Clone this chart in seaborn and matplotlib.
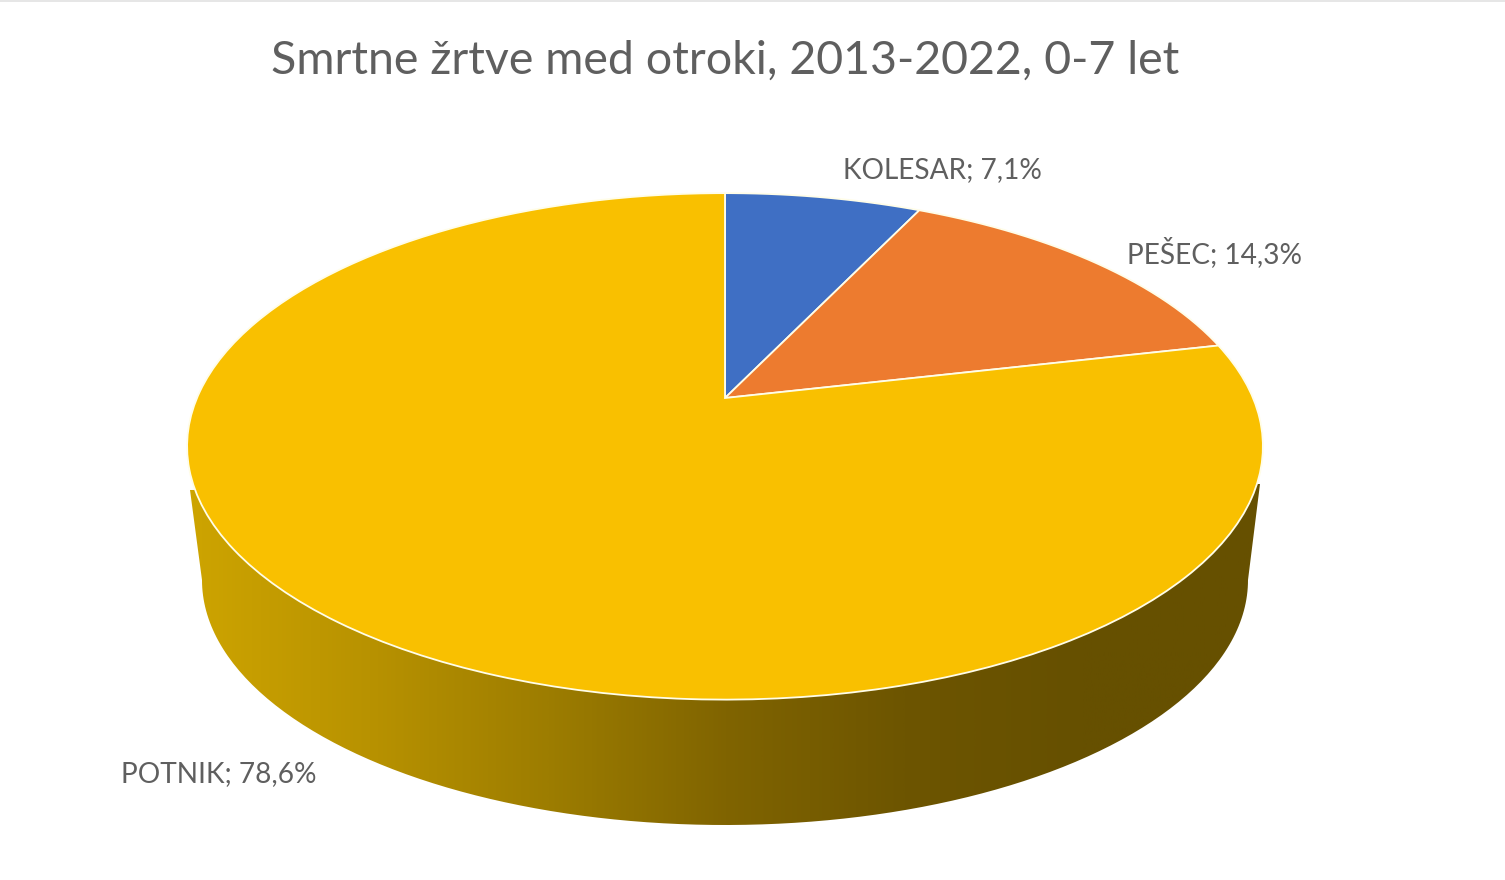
import numpy as np
import seaborn as sns
import matplotlib.pyplot as plt
from matplotlib.patches import PathPatch
from matplotlib.path import Path
from matplotlib.transforms import Affine2D

title = 'Smrtne žrtve med otroki, 2013-2022, 0-7 let'
names = ['KOLESAR', 'PEŠEC', 'POTNIK']
shares = [7.1, 14.3, 78.6]

colors = ['#3F6FC4', '#ED7B2F', '#F9C000']
wall_colors = ['#CDA400', '#B89200', '#9D7D00', '#806400', '#6D5500', '#665000', '#665000']
text_color = '#5F5F5F'

sns.set_theme(style='white')
plt.rcParams['font.family'] = ['Lato', 'DejaVu Sans']

# tilted disc, far side is smaller
apex_x, apex_y = 725, 398
a, b, k = 528, 244, 0.191


def project(xy):
    w = 1 + k * xy[:, 1]
    return np.column_stack([apex_x + a * xy[:, 0] / w, apex_y - b * xy[:, 1] / w])


fig = plt.figure(figsize=(15.05, 8.8), dpi=100)
ax = fig.add_axes([0, 0, 1, 1])

wedges, _ = ax.pie(shares, colors=colors, startangle=90, counterclock=False)

# pie comes out flat, so put every wedge through the tilt
for w in wedges:
    poly = w.get_path().to_polygons(Affine2D().scale(1000))[0] / 1000
    ax.add_patch(PathPatch(Path(project(poly), closed=True), facecolor=w.get_facecolor(),
                           edgecolor='#FFFDE8', linewidth=1.3, zorder=3))
    w.remove()

# side of the disc
t = np.linspace(0, np.pi, 200)
side = np.column_stack([725 + 523 * np.cos(t), 580 + 245 * np.sin(t)])
side = np.vstack([[1260, 484], side, [190, 490]])
clip = PathPatch(Path(side, closed=False), transform=ax.transData, facecolor='none', edgecolor='none')
ax.add_patch(clip)
img = ax.imshow(np.linspace(0, 1, 512)[None, :], extent=(190, 1262, 830, 480), aspect='auto',
                cmap=sns.blend_palette(wall_colors, as_cmap=True), zorder=1)
img.set_clip_path(clip)

ax.axhspan(0, 2.5, color='#E6E6E6', linewidth=0)

ax.text(725, 61, title, ha='center', va='center', fontsize=33.5, color=text_color)
label_pos = [(843, 170), (1127, 253), (121, 774)]
for name, share, (lx, ly) in zip(names, shares, label_pos):
    label = f'{name}; {share:.1f}%'.replace('.', ',')
    ax.text(lx, ly, label, ha='left', va='center', fontsize=20.2, color=text_color)

ax.set_aspect('auto')
ax.set_xlim(0, 1505)
ax.set_ylim(880, 0)
ax.axis('off')

plt.savefig('out.png', dpi=100)
